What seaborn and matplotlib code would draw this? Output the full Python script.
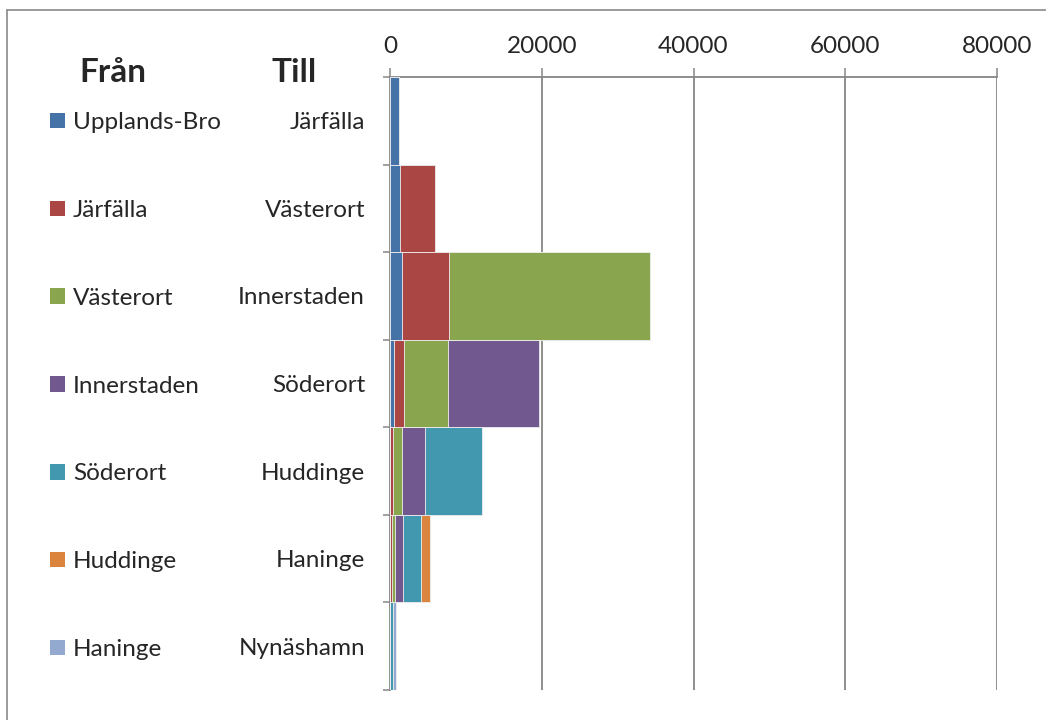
import numpy as np
import pandas as pd
import matplotlib
matplotlib.use("Agg")
import matplotlib.pyplot as plt
import seaborn as sns
from matplotlib.patches import Patch
from matplotlib.lines import Line2D

# Destinations ("Till") on the category axis
till = ["Järfälla", "Västerort", "Innerstaden", "Söderort", "Huddinge", "Haninge", "Nynäshamn"]
# Origins ("Från") as stacked series
fran = ["Upplands-Bro", "Järfälla", "Västerort", "Innerstaden", "Söderort", "Huddinge", "Haninge"]

upplands_bro = [1250, 1260, 1590, 500, 50, 0, 0]
jarfalla     = [0, 4640, 6190, 1280, 300, 200, 0]
vasterort    = [0, 0, 26530, 5900, 1190, 450, 0]
innerstaden  = [0, 0, 0, 12020, 3100, 1000, 0]
soderort     = [0, 0, 0, 0, 7460, 2380, 450]
huddinge     = [0, 0, 0, 0, 0, 1245, 0]
haninge      = [0, 0, 0, 0, 0, 0, 360]

series = [upplands_bro, jarfalla, vasterort, innerstaden, soderort, huddinge, haninge]
colors = ["#4572A7", "#AA4643", "#89A54E", "#71588F", "#4198AF", "#DB843D", "#93A9CF"]

sns.set_style("white")
plt.rcParams["font.family"] = ["Lato", "DejaVu Sans"]

W, H = 1046, 720
fig = plt.figure(figsize=(W / 100, H / 100), dpi=100)
ax = fig.add_axes([390 / W, 1 - 690 / H, (997 - 390) / W, (690 - 77) / H])

cum = np.cumsum(np.array(series, dtype=float), axis=0)
df = pd.DataFrame({"till": till})
for i in range(len(series) - 1, -1, -1):
    df["v"] = cum[i]
    sns.barplot(data=df, x="v", y="till", order=till, color=colors[i], width=1.0,
                saturation=1, edgecolor="#f0f0f0", linewidth=0.6, ax=ax, orient="h", zorder=3)

grid_c = "#868686"
FS = 17.5
ax.set_xlim(0, 80000)
ax.set_ylim(6.5, -0.5)
ax.set_xlabel("")
ax.set_ylabel("")

# x axis on top
ax.xaxis.set_ticks_position("top")
ax.xaxis.set_label_position("top")
ax.set_xticks([0, 20000, 40000, 60000, 80000])
ax.set_xticklabels(["0", "20000", "40000", "60000", "80000"], fontsize=FS)
ax.tick_params(axis="x", which="major", direction="out", length=6.5, width=1.1,
               color=grid_c, pad=8, top=True, bottom=False, labeltop=True, labelbottom=False)
for xv in [20000, 40000, 60000, 80000]:
    ax.axvline(xv, color=grid_c, lw=1.3, zorder=1)

# y ticks at category boundaries, labels at centers
ax.set_yticks(np.arange(-0.5, 7.0, 1.0))
ax.set_yticklabels([])
ax.set_yticks(np.arange(7), minor=True)
ax.set_yticklabels(till, minor=True, fontsize=FS)
ax.tick_params(axis="y", which="major", direction="out", length=5, width=1.1, color=grid_c, left=True)
ax.tick_params(axis="y", which="minor", length=0, pad=18)

for s in ["right", "bottom"]:
    ax.spines[s].set_visible(False)
for s in ["top", "left"]:
    ax.spines[s].set_color(grid_c)
    ax.spines[s].set_linewidth(1.3)

# Legend
handles = [Patch(facecolor=c, edgecolor="none") for c in colors]
leg = fig.legend(handles, fran, loc="upper left", bbox_to_anchor=(50 / W, 1 - 112 / H),
                 frameon=False, fontsize=FS, handlelength=0.6, handleheight=0.6,
                 handletextpad=0.35, labelspacing=2.75, borderaxespad=0, borderpad=0)

fig.text(79 / W, 1 - 73 / H, "Från", fontsize=24, fontweight="bold", va="center", ha="left")
fig.text(272 / W, 1 - 73 / H, "Till", fontsize=24, fontweight="bold", va="center", ha="left")

# chart frame
fig.add_artist(Line2D([7 / W, 7 / W], [0, 1 - 10 / H], transform=fig.transFigure, color="#8a8a8a", lw=1.2))
fig.add_artist(Line2D([7 / W, 1], [1 - 10 / H, 1 - 10 / H], transform=fig.transFigure, color="#8a8a8a", lw=1.2))

fig.savefig("out.png", dpi=100)
